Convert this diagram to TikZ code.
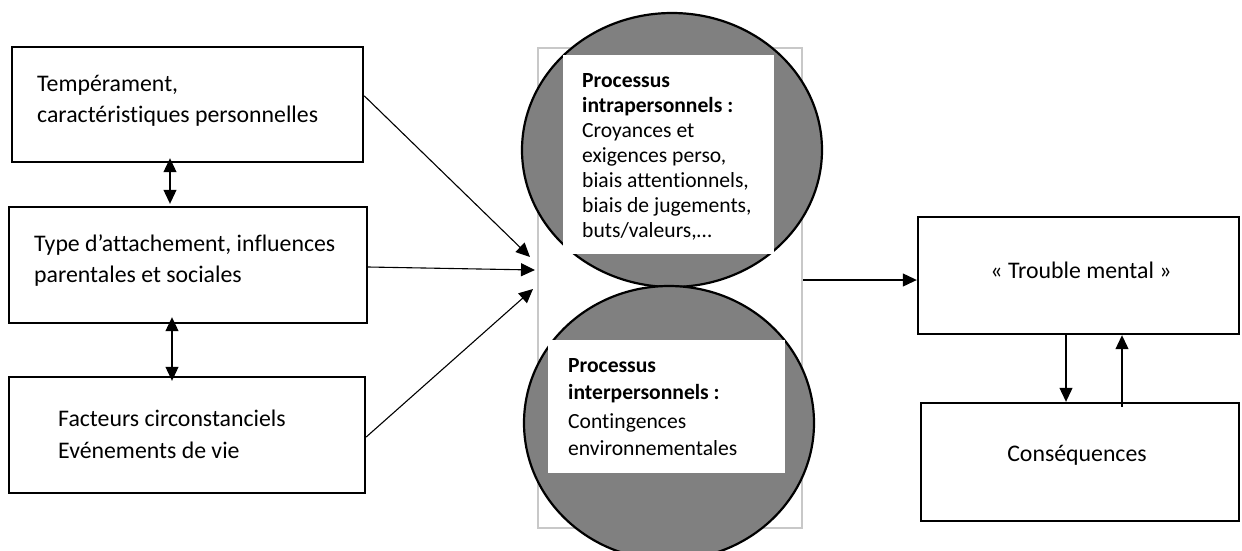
\documentclass[tikz,border=0pt]{standalone}
\usepackage{fontspec}
\setmainfont{Carlito}[Ligatures=NoCommon]
\usetikzlibrary{arrows.meta,shapes.geometric}
\newcommand\boxfont{\fontsize{23.8}{29}\selectfont}
\newcommand\circfont{\fontsize{21.6}{26}\selectfont}
\definecolor{circgray}{HTML}{808080}
\definecolor{framegray}{HTML}{C8C8C8}
\begin{document}
\begin{tikzpicture}[x=1pt,y=-1pt,
  box/.style={draw=black,line width=2.4pt,inner sep=0pt,rectangle,fill=white},
  txt/.style={font=\boxfont,inner sep=0pt,anchor=base west},
  ctr/.style={font=\boxfont,inner sep=0pt,anchor=base},
  ctxt/.style={font=\circfont,inner sep=0pt,anchor=base west},
  circ/.style={ellipse,draw=black,fill=circgray,line width=2.2pt,inner sep=0pt},
  wbox/.style={rectangle,fill=white,inner sep=0pt},
  arr/.style={line width=1.1pt,-{Triangle[length=14pt,width=13pt]}},
  dbl/.style={line width=1.1pt,{Triangle[length=14pt,width=13pt]}-{Triangle[length=14pt,width=13pt]}}]
\useasboundingbox (0,0) rectangle (1242,550);
% left boxes
\node[box,minimum width=351pt,minimum height=115pt] (b1) at (187.5,104.5) {};
\node[box,minimum width=358pt,minimum height=116pt] (b2) at (188,265) {};
\node[box,minimum width=356pt,minimum height=116pt] (b3) at (187,435) {};
\node[txt] (t1a) at (37,91) {Tempérament,};
\node[txt] (t1b) at (37,122) {caractéristiques personnelles};
\node[txt] (t2a) at (34,251) {Type d’attachement, influences};
\node[txt] (t2b) at (34,282) {parentales et sociales};
\node[txt] (t3a) at (58,426) {Facteurs circonstanciels};
\node[txt] (t3b) at (58,458) {Evénements de vie};
% central frame and circles
\node[rectangle,draw=framegray,line width=2pt,minimum width=264pt,minimum height=480pt,inner sep=0pt] (fr) at (670,288) {};
\node[circ,minimum width=300pt,minimum height=274pt] (c1) at (672,150) {};
\node[circ,minimum width=290pt,minimum height=274pt] (c2) at (669,423) {};
\node[wbox,minimum width=211pt,minimum height=199pt] (w1) at (668.5,154.5) {};
\node[wbox,minimum width=237pt,minimum height=133pt] (w2) at (666.5,406.5) {};
\node[ctxt] (u1) at (582,87) {\bfseries Processus};
\node[ctxt] (u2) at (582,112) {\bfseries intrapersonnels :};
\node[ctxt] (u3) at (582,137) {Croyances et};
\node[ctxt] (u4) at (582,162) {exigences perso,};
\node[ctxt] (u5) at (582,187) {biais attentionnels,};
\node[ctxt] (u6) at (582,212) {biais de jugements,};
\node[ctxt] (u7) at (582,237) {buts/valeurs,…};
\node[ctxt] (l1) at (568,372) {\bfseries Processus};
\node[ctxt] (l2) at (568,399) {\bfseries interpersonnels :};
\node[ctxt] (l3) at (568,428) {Contingences};
\node[ctxt] (l4) at (568,455) {environnementales};
% right boxes
\node[box,minimum width=321pt,minimum height=117pt] (tm) at (1078.5,275.5) {};
\node[box,minimum width=318pt,minimum height=118pt] (cq) at (1080,462) {};
\node[ctr] (ttm) at (1081,278) {« Trouble mental »};
\node[ctr] (tcq) at (1077,461) {Conséquences};
% arrow targets
\coordinate (p1) at (530,257);
\coordinate (p2) at (535,270);
\coordinate (p3) at (533,289);
% connectors
\draw[arr] ([yshift=-50pt]b1.north east) -- (p1);
\draw[arr] ([yshift=-2pt]b2.east) -- (p2);
\draw[arr] ([yshift=-2pt]b3.east) -- (p3);
\draw[dbl] ([xshift=-17.5pt,yshift=5pt]b1.south) -- ([xshift=-18pt,yshift=2pt]b2.north);
\draw[dbl] ([xshift=-16pt,yshift=7pt]b2.south) -- ([xshift=-15pt,yshift=-5pt]b3.north);
\draw[arr] ([yshift=8pt]fr.east) -- ([yshift=-4.5pt]tm.west);
\draw[arr] ([xshift=-12.5pt]tm.south) -- ([xshift=-12.5pt]tm.south |- cq.north);
\draw[arr] ([xshift=42pt,yshift=-5pt]cq.north) -- ([xshift=42pt]cq.north |- tm.south);
\end{tikzpicture}
\end{document}
